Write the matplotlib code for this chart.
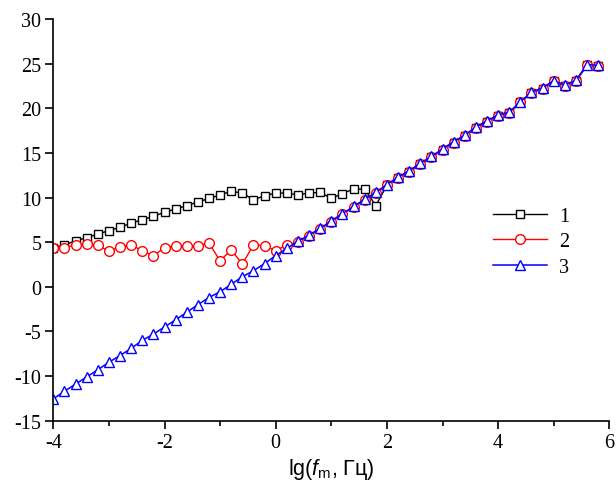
import matplotlib
matplotlib.use('Agg')
import matplotlib.pyplot as plt
from matplotlib.ticker import MultipleLocator

# lg(f_m) values, step 0.2
lgf = [-4.0, -3.8, -3.6, -3.4, -3.2, -3.0, -2.8, -2.6, -2.4, -2.2,
       -2.0, -1.8, -1.6, -1.4, -1.2, -1.0, -0.8, -0.6, -0.4, -0.2,
       0.0, 0.2, 0.4, 0.6, 0.8, 1.0, 1.2, 1.4, 1.6, 1.8,
       2.0, 2.2, 2.4, 2.6, 2.8, 3.0, 3.2, 3.4, 3.6, 3.8,
       4.0, 4.2, 4.4, 4.6, 4.8, 5.0, 5.2, 5.4, 5.6, 5.8]

curve1 = [4.4, 4.7, 5.15, 5.5, 5.9, 6.3, 6.65, 7.15, 7.5, 7.9,
          8.35, 8.7, 9.1, 9.5, 9.9, 10.3, 10.7, 10.5, 9.75, 10.2,
          10.5, 10.5, 10.3, 10.5, 10.58, 9.9, 10.45, 10.95, 10.95, 9.1,
          11.35, 12.2, 12.9, 13.75, 14.5, 15.35, 16.15, 16.9, 17.8, 18.5,
          19.15, 19.45, 20.65, 21.7, 22.2, 23.0, 22.5, 23.05, 24.8, 24.7]

curve2 = [4.3, 4.4, 4.7, 4.75, 4.7, 3.97, 4.5, 4.7, 4.05, 3.45,
          4.4, 4.57, 4.57, 4.6, 4.9, 2.9, 4.15, 2.55, 4.7, 4.6,
          4.05, 4.7, 5.0, 5.7, 6.45, 7.3, 8.1, 8.9, 9.7, 10.5,
          11.35, 12.2, 12.9, 13.75, 14.5, 15.35, 16.15, 16.9, 17.8, 18.5,
          19.15, 19.45, 20.65, 21.7, 22.2, 23.0, 22.5, 23.05, 24.8, 24.7]

curve3 = [-12.56, -11.7, -10.9, -10.1, -9.3, -8.45, -7.7, -6.9, -6.0, -5.3,
          -4.5, -3.7, -2.85, -2.0, -1.2, -0.55, 0.28, 1.13, 1.8, 2.6,
          3.5, 4.3, 5.1, 5.8, 6.55, 7.4, 8.2, 9.0, 9.8, 10.6,
          11.45, 12.3, 13.0, 13.85, 14.6, 15.45, 16.27, 17.0, 17.9, 18.6,
          19.26, 19.56, 20.75, 21.8, 22.3, 23.1, 22.6, 23.15, 24.9, 24.8]

labels = ['1', '2', '3']

plt.rcParams['font.family'] = 'Liberation Serif'
plt.rcParams['axes.unicode_minus'] = False
plt.rcParams['mathtext.fontset'] = 'custom'
plt.rcParams['mathtext.rm'] = 'Liberation Sans'
plt.rcParams['mathtext.it'] = 'Liberation Sans:italic'

fig = plt.figure(figsize=(6.16, 5.02), dpi=100)
ax = fig.add_axes([53.3 / 616, 80.3 / 502, 556 / 616, 401.7 / 502])

ax.plot(lgf, curve1, '-s', color='black', mfc='white', mec='black', ms=5.5, mew=1.0, lw=1.0, label=labels[0])
ax.plot(lgf, curve2, '-o', color='red', mfc='white', mec='red', ms=7, mew=1.0, lw=1.0, label=labels[1])
ax.plot(lgf, curve3, '-^', color='blue', mfc='white', mec='blue', ms=7.5, mew=1.0, lw=1.1, label=labels[2])

ax.set_xlim(-4, 6)
ax.set_ylim(-15, 30)
ax.xaxis.set_major_locator(MultipleLocator(2))
ax.xaxis.set_minor_locator(MultipleLocator(1))
ax.yaxis.set_major_locator(MultipleLocator(5))

ax.spines['top'].set_visible(False)
ax.spines['right'].set_visible(False)
ax.spines['left'].set_linewidth(1.2)
ax.spines['bottom'].set_linewidth(1.2)
ax.tick_params(which='major', direction='out', length=5.5, width=1.2, labelsize=14.5, pad=3)
ax.tick_params(which='minor', direction='out', length=3.5, width=1.2)

ax.set_xlabel(r'lg($\mathit{f}_{\mathrm{m}}$, Гц)', family='Liberation Sans', fontsize=15.5, labelpad=3)

ax.legend(loc='center left', bbox_to_anchor=(0.79, 0.445), frameon=False, fontsize=14.5,
          handlelength=2.7, handletextpad=0.6, labelspacing=0.3, borderpad=0, borderaxespad=0)

fig.savefig('out.png', dpi=100)
